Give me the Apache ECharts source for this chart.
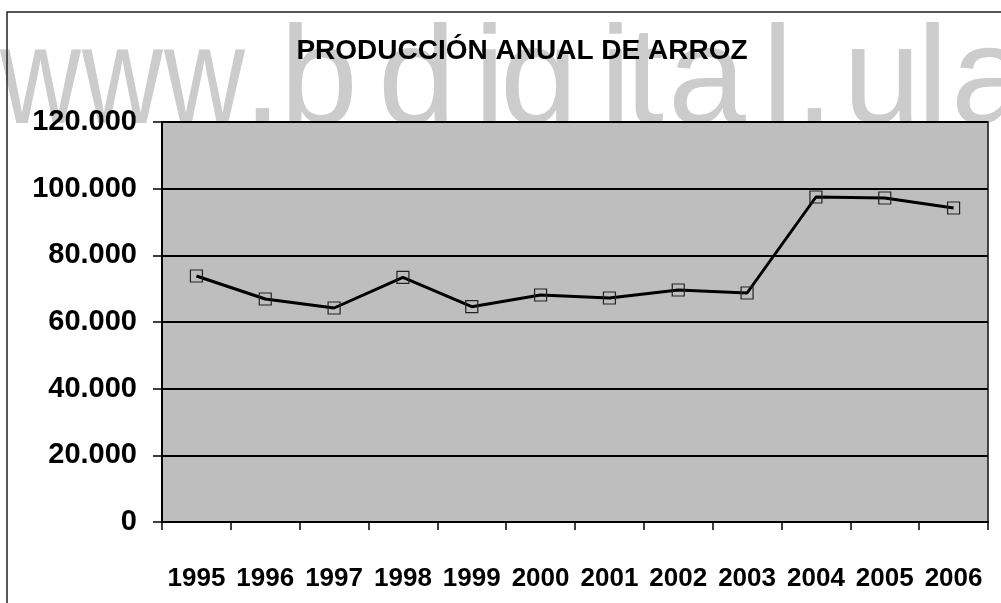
<!DOCTYPE html>
<html>
<head>
<meta charset="utf-8">
<title>Producción anual de arroz</title>
<script src="https://cdn.jsdelivr.net/npm/echarts@6/dist/echarts.min.js"></script>
<style>
  html, body { margin: 0; padding: 0; background: #fff; }
  #main { width: 1001px; height: 603px; }
</style>
</head>
<body>
<div id="main"></div>
<script>
// años y producción (toneladas)
const years = ['1995', '1996', '1997', '1998', '1999', '2000', '2001', '2002', '2003', '2004', '2005', '2006'];
const produccion = [73800, 66900, 64200, 73400, 64600, 68100, 67200, 69600, 68700, 97500, 97200, 94200];
const yTicks = [0, 20000, 40000, 60000, 80000, 100000, 120000];

const FONT = "'Liberation Sans', Arial, sans-serif";

// marca de agua, letra por letra
const wmChars = ['w', 'w', 'w', '.', 'b', 'd', 'i', 'g', 'i', 't', 'a', 'l', '.', 'u', 'l', 'a'];
const wmX = [0, 82, 164, 243, 280, 378, 474, 500, 600, 625, 668, 762, 795, 843, 917, 951];

function miles(v) {
  return String(v).replace(/\B(?=(\d{3})+(?!\d))/g, '.');
}

const chart = echarts.init(document.getElementById('main'), null, { renderer: 'canvas' });

const graphics = wmChars.map(function (c, i) {
  return {
    type: 'text',
    x: wmX[i],
    y: 14,
    scaleX: c === 'w' ? 0.8 : 1,
    z: -10,
    silent: true,
    style: {
      text: c,
      font: 'normal 140px ' + FONT,
      fill: '#cccccc'
    }
  };
});
// marco exterior (solo lados izquierdo y superior visibles)
graphics.push({
  type: 'polyline',
  z: -5,
  silent: true,
  shape: { points: [[7, 603], [7, 12], [1001, 12]] },
  style: { stroke: '#222', lineWidth: 1.5, fill: null }
});

const option = {
  backgroundColor: '#ffffff',
  animation: false,
  graphic: graphics,
  title: {
    text: 'PRODUCCIÓN ANUAL DE ARROZ',
    left: 517,
    top: 32,
    textAlign: 'center',
    textStyle: {
      fontFamily: FONT,
      fontWeight: 'bold',
      fontSize: 28,
      color: '#000'
    }
  },
  grid: {
    left: 162,
    right: 13,
    top: 122,
    bottom: 81,
    show: true,
    backgroundColor: '#bebebe',
    borderColor: '#111',
    borderWidth: 1.5
  },
  xAxis: {
    type: 'category',
    data: years,
    boundaryGap: true,
    axisLine: { lineStyle: { color: '#000', width: 2 } },
    axisTick: { show: true, interval: 0, length: 8, lineStyle: { color: '#000', width: 1.5 } },
    axisLabel: {
      interval: 0,
      margin: 44,
      color: '#000',
      fontFamily: FONT,
      fontWeight: 'bold',
      fontSize: 26
    },
    splitLine: { show: false }
  },
  yAxis: {
    type: 'value',
    min: yTicks[0],
    max: yTicks[yTicks.length - 1],
    interval: yTicks[1] - yTicks[0],
    axisLine: { show: true, lineStyle: { color: '#000', width: 2 } },
    axisTick: { show: true, length: 9, lineStyle: { color: '#000', width: 1.5 } },
    axisLabel: {
      margin: 25,
      color: '#000',
      fontFamily: FONT,
      fontWeight: 'bold',
      fontSize: 29,
      formatter: miles
    },
    splitLine: { show: true, lineStyle: { color: '#000', width: 2 } }
  },
  series: [{
    name: 'Producción',
    type: 'line',
    data: produccion,
    symbol: 'rect',
    symbolSize: 12,
    showAllSymbol: true,
    lineStyle: { color: '#000', width: 3 },
    itemStyle: { color: 'rgba(0,0,0,0)', borderColor: '#222', borderWidth: 1.2 }
  }]
};

chart.setOption(option);
</script>
</body>
</html>
